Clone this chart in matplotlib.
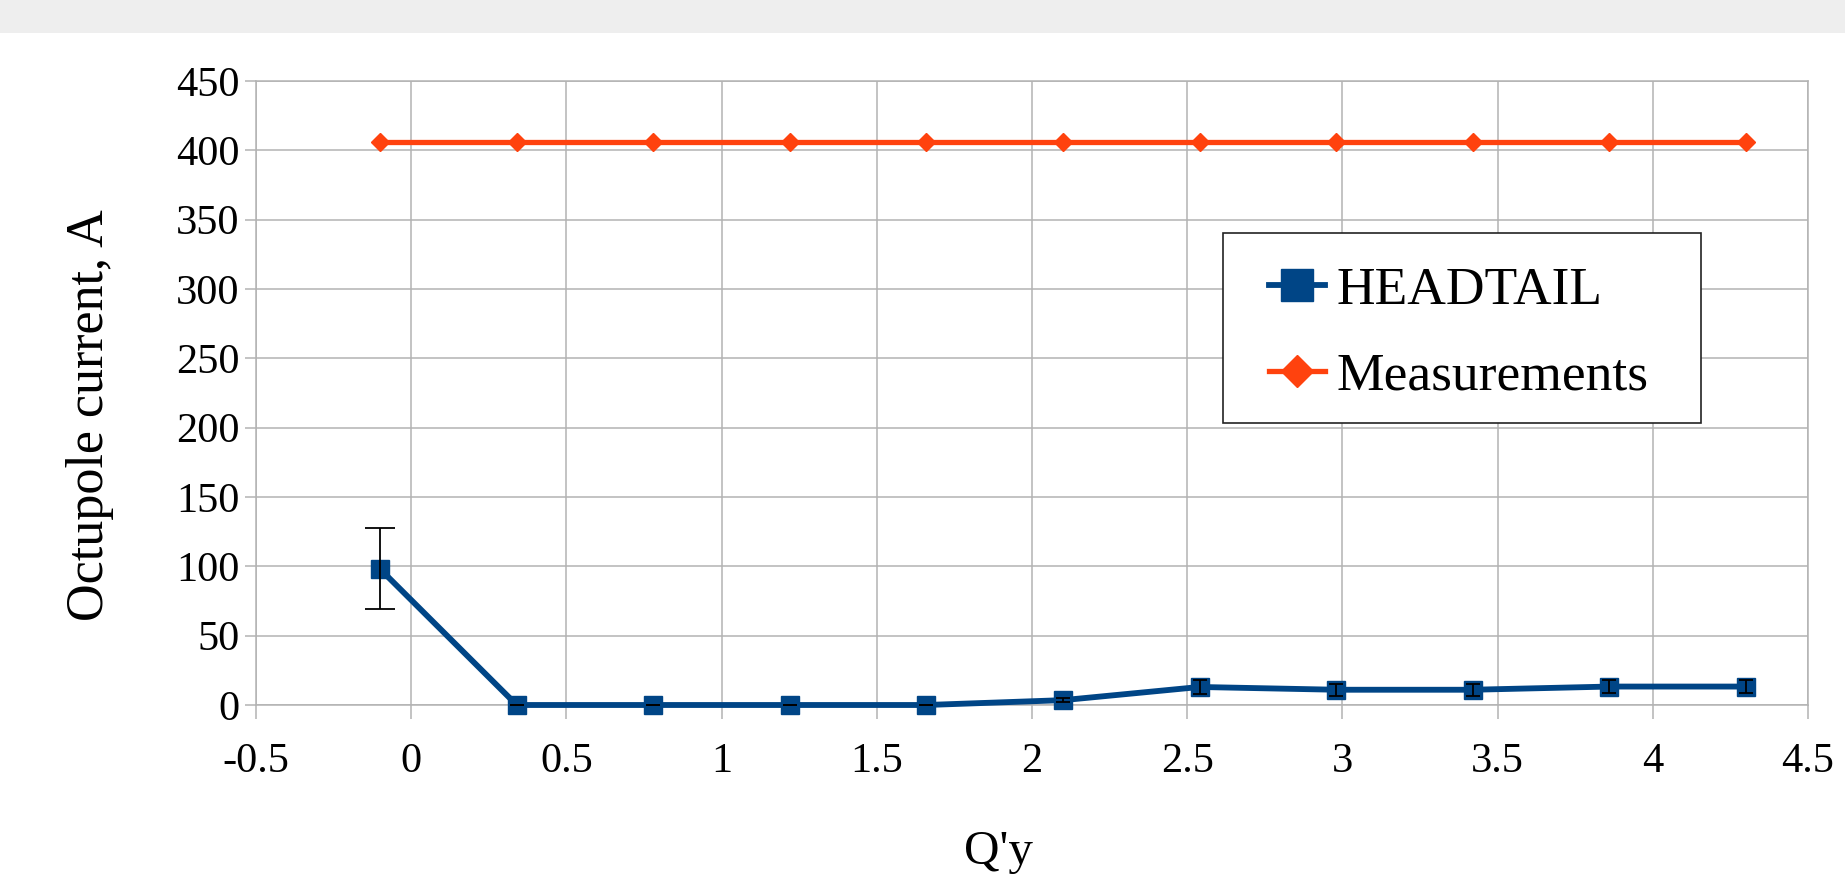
import matplotlib
matplotlib.use("Agg")
import matplotlib.pyplot as plt
from matplotlib.patches import Rectangle

# ---- data ----
qy = [-0.1, 0.34, 0.78, 1.22, 1.66, 2.1, 2.54, 2.98, 3.42, 3.86, 4.3]
headtail = [98, 0, 0, 0, 0, 3.5, 13, 11, 11, 13.3, 13.3]
headtail_err_low = [28.5, 0, 0, 0, 0, 1.2, 5, 4.5, 4.5, 4.8, 4.8]
headtail_err_high = [30, 0, 0, 0, 0, 1.2, 5, 4.5, 4.5, 4.8, 4.8]
measurements = [406, 406, 406, 406, 406, 406, 406, 406, 406, 406, 406]
series_names = ["HEADTAIL", "Measurements"]
xticks = [-0.5, 0, 0.5, 1, 1.5, 2, 2.5, 3, 3.5, 4, 4.5]
xticklabels = ["-0.5", "0", "0.5", "1", "1.5", "2", "2.5", "3", "3.5", "4", "4.5"]
yticks = [0, 50, 100, 150, 200, 250, 300, 350, 400, 450]
yticklabels = [str(v) for v in yticks]
xlabel = "Q'y"
ylabel = "Octupole current, A"

# ---- style ----
plt.rcParams['font.family'] = ['Liberation Serif', 'DejaVu Serif']
W, H = 1845, 882
fig = plt.figure(figsize=(W / 100, H / 100), dpi=100, facecolor='white')

# top grey band
fig.add_artist(Rectangle((0, 1 - 33 / H), 1, 33 / H, transform=fig.transFigure,
                         facecolor='#eeeeee', edgecolor='none', zorder=0))

ax = fig.add_axes([256 / W, 1 - 705 / H, (1808 - 256) / W, (705 - 81) / H])
grid_c = '#b3b3b3'
ax.set_xlim(-0.5, 4.5)
ax.set_ylim(0, 450)
ax.set_xticks(xticks)
ax.set_xticklabels(xticklabels)
ax.set_yticks(yticks)
ax.set_yticklabels(yticklabels)
ax.grid(True, color=grid_c, lw=1.1)
ax.set_axisbelow(True)
for s in ax.spines.values():
    s.set_color(grid_c)
    s.set_linewidth(1.1)
ax.tick_params(axis='x', length=10, width=1.1, color=grid_c, labelsize=30.5, pad=17)
ax.tick_params(axis='y', length=8, width=1.1, color=grid_c, labelsize=30.5, pad=4)

blue = '#004586'
orange = '#ff420e'
l1, = ax.plot(qy, headtail, color=blue, lw=4.2, marker='s', ms=13.5,
              markeredgecolor=blue, zorder=3, label=series_names[0], clip_on=False)
l2, = ax.plot(qy, measurements, color=orange, lw=3.8, marker='D', ms=9.5,
              markeredgecolor=orange, zorder=3, label=series_names[1], clip_on=False)

# error bars: first point with wider caps, others narrower
ax.errorbar(qy[:1], headtail[:1], yerr=[headtail_err_low[:1], headtail_err_high[:1]],
            fmt='none', ecolor='black', elinewidth=1.3, capsize=11, capthick=1.3,
            zorder=5, clip_on=False)
ax.errorbar(qy[1:], headtail[1:], yerr=[headtail_err_low[1:], headtail_err_high[1:]],
            fmt='none', ecolor='black', elinewidth=1.3, capsize=5, capthick=1.3,
            zorder=5, clip_on=False)

# legend frame
fig.add_artist(Rectangle((1223 / W, 1 - 423 / H), (1701 - 1223) / W, (423 - 233) / H,
                         transform=fig.transFigure, facecolor='white',
                         edgecolor='#222222', lw=1.2, zorder=4))
leg = fig.legend(handles=[l1, l2], loc='center left',
                 bbox_to_anchor=(1269 / W, 1 - 333.5 / H), bbox_transform=fig.transFigure,
                 frameon=False, fontsize=38.5, markerscale=1.75, borderpad=0,
                 borderaxespad=0, handlelength=1.05, handletextpad=0.22,
                 labelspacing=0.70)
leg.set_zorder(6)

fig.text(90 / W, 1 - 415 / H, ylabel, rotation=90, ha='center', va='center', fontsize=37.5)
fig.text(998 / W, 1 - 852 / H, xlabel, ha='center', va='center', fontsize=35.5)

fig.savefig('out.png', dpi=100, facecolor='white')
